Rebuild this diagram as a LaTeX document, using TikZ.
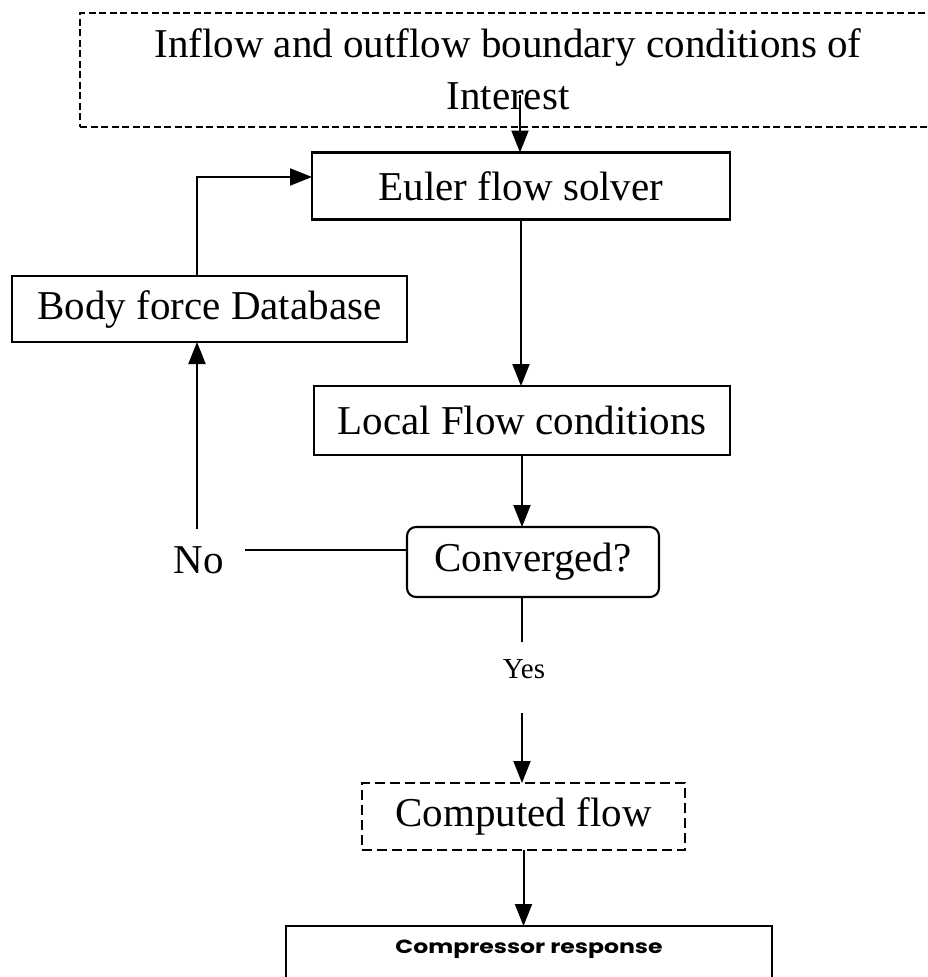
\documentclass[tikz,border=0pt]{standalone}
\usepackage{fontspec}
\setmainfont{Liberation Serif}
\newfontfamily\gothicfont{Poppins}[FakeStretch=1.24]
\usetikzlibrary{arrows.meta}
\begin{document}
\begin{tikzpicture}[x=1pt,y=-1pt,
  every node/.style={inner sep=0pt, outer sep=0pt},
  txt/.style={font=\fontsize{41}{52}\selectfont},
  sbox/.style={draw, line width=2.1pt, txt},
  topbox/.style={draw, line width=1.6pt, dash pattern=on 7pt off 3.5pt},
  cbox/.style={draw, line width=1.9pt, dash pattern=on 10pt off 5pt, txt},
  arr/.style={line width=2pt, -{Triangle[length=22pt,width=17pt]}},
  ln/.style={line width=1.8pt}]
\useasboundingbox (0,0) rectangle (927,977);
\clip (0,0) rectangle (927,977);
\fill[white] (0,0) rectangle (927,977);

\node[topbox, minimum width=880pt, minimum height=114pt] (top) at (520,70) {};
\node[txt, align=center] (toptext) at (508,69) {Inflow and outflow boundary conditions of\\Interest};

\node[sbox, minimum width=418pt, minimum height=67pt] (euler) at (521,186) {Euler flow solver};
\node[sbox, minimum width=395pt, minimum height=66pt] (body) at (209.5,309) {Body force Database};
\node[sbox, minimum width=416pt, minimum height=69pt] (local) at (522,420.5) {Local Flow conditions};
\node[sbox, rounded corners=9pt, minimum width=252pt, minimum height=70pt] (conv) at (533,562) {Converged?};
\node[txt] (no) at (198.5,560) {No};
\node[font=\fontsize{29}{35}\selectfont] (yes) at (524,669) {Yes};
\node[cbox, minimum width=323pt, minimum height=67pt] (comp) at (523.5,816.5) {Computed flow};
\node[draw, line width=2.1pt, minimum width=486pt, minimum height=120pt, anchor=north] (resp) at (529,926) {};
\node[font=\gothicfont\bfseries\fontsize{19}{23}\selectfont] (resptext) at (529,949) {Compressor response};

\coordinate (tin) at (520,95);
\draw[arr] (tin) -- (tin |- euler.north);
\coordinate (bx) at (197,177);
\draw[arr] (bx |- body.north) -- (bx) -- (bx -| euler.west);
\draw[arr] (euler.south) -- (euler.south |- local.north);
\draw[arr] (local.south) -- (local.south |- conv.north);
\coordinate (nol) at (245,550);
\draw[ln] (nol -| conv.west) -- (nol);
\coordinate (upst) at (197,529);
\draw[arr] (upst) -- (upst |- body.south);
\coordinate (y1) at (522,642);
\draw[ln] (y1 |- conv.south) -- (y1);
\coordinate (y2) at (522,713);
\draw[arr] (y2) -- (y2 |- comp.north);
\draw[arr] (comp.south) -- (comp.south |- resp.north);
\end{tikzpicture}
\end{document}
